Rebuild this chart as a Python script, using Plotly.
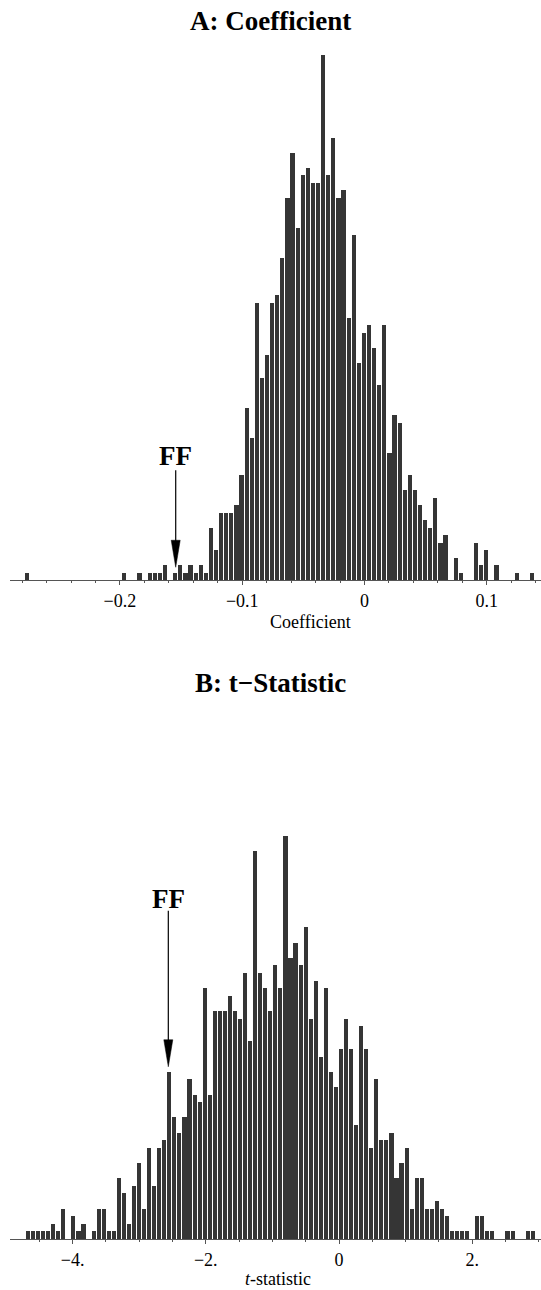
import plotly.graph_objects as go

# ---------------- data ----------------
# Panel A: histogram of coefficients (100 bins)
COEF_BIN_START = -0.2778
COEF_BIN_WIDTH = 0.00417
coef_counts = [
    1, 0, 0, 0, 0, 0, 0, 0, 0, 0,
    0, 0, 0, 0, 0, 0, 0, 0, 0, 1,
    0, 0, 1, 0, 1, 1, 1, 2, 0, 1,
    2, 1, 2, 1, 2, 1, 7, 4, 9, 9,
    9, 10, 14, 23, 19, 37, 27, 30, 37, 38,
    43, 51, 57, 47, 54, 55, 53, 53, 70, 54,
    59, 51, 52, 35, 46, 29, 33, 34, 31, 26,
    34, 17, 22, 21, 12, 14, 12, 10, 8, 7,
    11, 5, 6, 0, 3, 1, 0, 0, 5, 2,
    4, 0, 2, 0, 0, 0, 1, 0, 0, 1,
]
coef_tickvals = [-0.2, -0.1, 0, 0.1]
coef_ticktext = ["\u22120.2", "\u22120.1", "0", "0.1"]
FF_COEF = -0.1544

# Panel B: histogram of t-statistics (101 bins)
T_BIN_START = -4.708
T_BIN_WIDTH = 0.0758
t_counts = [
    1, 1, 1, 1, 1, 2, 1, 4, 0, 3,
    1, 2, 0, 1, 4, 4, 1, 1, 8, 6,
    2, 7, 10, 4, 12, 7, 12, 13, 22, 16,
    14, 16, 21, 19, 18, 33, 19, 30, 30, 30,
    32, 30, 29, 35, 26, 51, 35, 33, 30, 36,
    33, 53, 37, 39, 36, 41, 29, 34, 24, 33,
    22, 20, 25, 29, 25, 15, 28, 25, 12, 21,
    13, 13, 14, 8, 10, 12, 4, 8, 8, 4,
    4, 5, 4, 3, 1, 1, 1, 1, 0, 3,
    3, 1, 1, 0, 0, 1, 1, 0, 0, 1,
    1,
]
t_tickvals = [-4, -2, 0, 2]
t_ticktext = ["\u22124.", "\u22122.", "0", "2."]
FF_T = -2.563

coef_centers = [COEF_BIN_START + COEF_BIN_WIDTH * (i + 0.5) for i in range(len(coef_counts))]
t_centers = [T_BIN_START + T_BIN_WIDTH * (i + 0.5) for i in range(len(t_counts))]

# ---------------- layout geometry ----------------
W, H = 541, 1290
SERIF = "Liberation Serif, Times New Roman, serif"
BAR_COLOR = "#353535"
AXIS_COLOR = "#555555"

def ydom(top_px, bottom_px):
    return [(H - bottom_px) / H, (H - top_px) / H]

fig = go.Figure()
fig.add_trace(go.Bar(x=coef_centers, y=coef_counts, width=COEF_BIN_WIDTH * 0.82,
                     marker=dict(color=BAR_COLOR, line=dict(width=0)),
                     xaxis="x", yaxis="y", showlegend=False, hoverinfo="x+y"))
fig.add_trace(go.Bar(x=t_centers, y=t_counts, width=T_BIN_WIDTH * 0.82,
                     marker=dict(color=BAR_COLOR, line=dict(width=0)),
                     xaxis="x2", yaxis="y2", showlegend=False, hoverinfo="x+y"))

common_x = dict(showgrid=False, zeroline=False, showline=True, linecolor=AXIS_COLOR,
                linewidth=1, ticks="outside", ticklen=4, tickcolor=AXIS_COLOR,
                tickfont=dict(family=SERIF, size=18, color="black"), fixedrange=True)

fig.update_layout(
    width=W, height=H,
    margin=dict(l=0, r=0, t=0, b=0),
    paper_bgcolor="white", plot_bgcolor="white",
    bargap=0,
    xaxis=dict(common_x, domain=[10 / W, 1], range=[-0.2899, 0.1443],
               tickmode="array", tickvals=coef_tickvals, ticktext=coef_ticktext,
               minor=dict(ticks="outside", ticklen=2, tickcolor=AXIS_COLOR, dtick=0.02, tick0=0),
               anchor="y"),
    yaxis=dict(domain=ydom(55, 580), range=[0, 70], visible=False, fixedrange=True, anchor="x"),
    xaxis2=dict(common_x, domain=[10 / W, 1], range=[-4.94, 3.033],
                tickmode="array", tickvals=t_tickvals, ticktext=t_ticktext,
                minor=dict(ticks="outside", ticklen=2, tickcolor=AXIS_COLOR, dtick=0.5, tick0=0),
                anchor="y2"),
    yaxis2=dict(domain=ydom(1239.3 - 55 * 7.6, 1239.3), range=[0, 55], visible=False,
                fixedrange=True, anchor="x2"),
)

annotations = [
    dict(text="<b>A: Coefficient</b>", x=0.5, xref="paper", y=(H - 21) / H, yref="paper",
         showarrow=False, font=dict(family=SERIF, size=27, color="black"),
         xanchor="center", yanchor="middle"),
    dict(text="<b>B: t\u2212Statistic</b>", x=0.5, xref="paper", y=(H - 683) / H, yref="paper",
         showarrow=False, font=dict(family=SERIF, size=27, color="black"),
         xanchor="center", yanchor="middle"),
    dict(text="Coefficient", x=310 / W, xref="paper", y=(H - 622) / H, yref="paper",
         showarrow=False, font=dict(family=SERIF, size=18, color="black"),
         xanchor="center", yanchor="middle"),
    dict(text="<i>t</i>-statistic", x=278 / W, xref="paper", y=(H - 1279) / H, yref="paper",
         showarrow=False, font=dict(family=SERIF, size=18, color="black"),
         xanchor="center", yanchor="middle"),
]

# FF markers: text + arrow (tip anchored in data coordinates, sizes in pixels)
ff_specs = [
    # (x value, tip y in data units, axis suffix, text centre offset px, shaft top offset px)
    (FF_COEF, 1.7, "", 111, 97),
    (FF_T, 22.7, "2", 168, 156),
]
shapes = []
for xv, tip, ax, text_off, shaft_top in ff_specs:
    annotations.append(dict(text="<b>FF</b>", x=xv, xref="x" + ax, y=tip, yref="y" + ax,
                            yshift=text_off, showarrow=False,
                            font=dict(family=SERIF, size=27, color="black"),
                            xanchor="center", yanchor="middle"))
    shapes.append(dict(type="line", xref="x" + ax, yref="y" + ax,
                       x0=xv, x1=xv, ysizemode="pixel", yanchor=tip, y0=26, y1=shaft_top,
                       line=dict(color="black", width=1.2)))
    shapes.append(dict(type="path", xref="x" + ax, yref="y" + ax,
                       xsizemode="pixel", xanchor=xv, ysizemode="pixel", yanchor=tip,
                       path="M -4.5,27 L 4.5,27 L 0,0 Z",
                       fillcolor="black", line=dict(color="black", width=0.5)))

fig.update_layout(annotations=annotations, shapes=shapes)

fig.write_html(
    "out.html",
    config={"displayModeBar": False},
    post_script="document.body.style.margin='0';document.body.style.overflow='hidden';",
)
